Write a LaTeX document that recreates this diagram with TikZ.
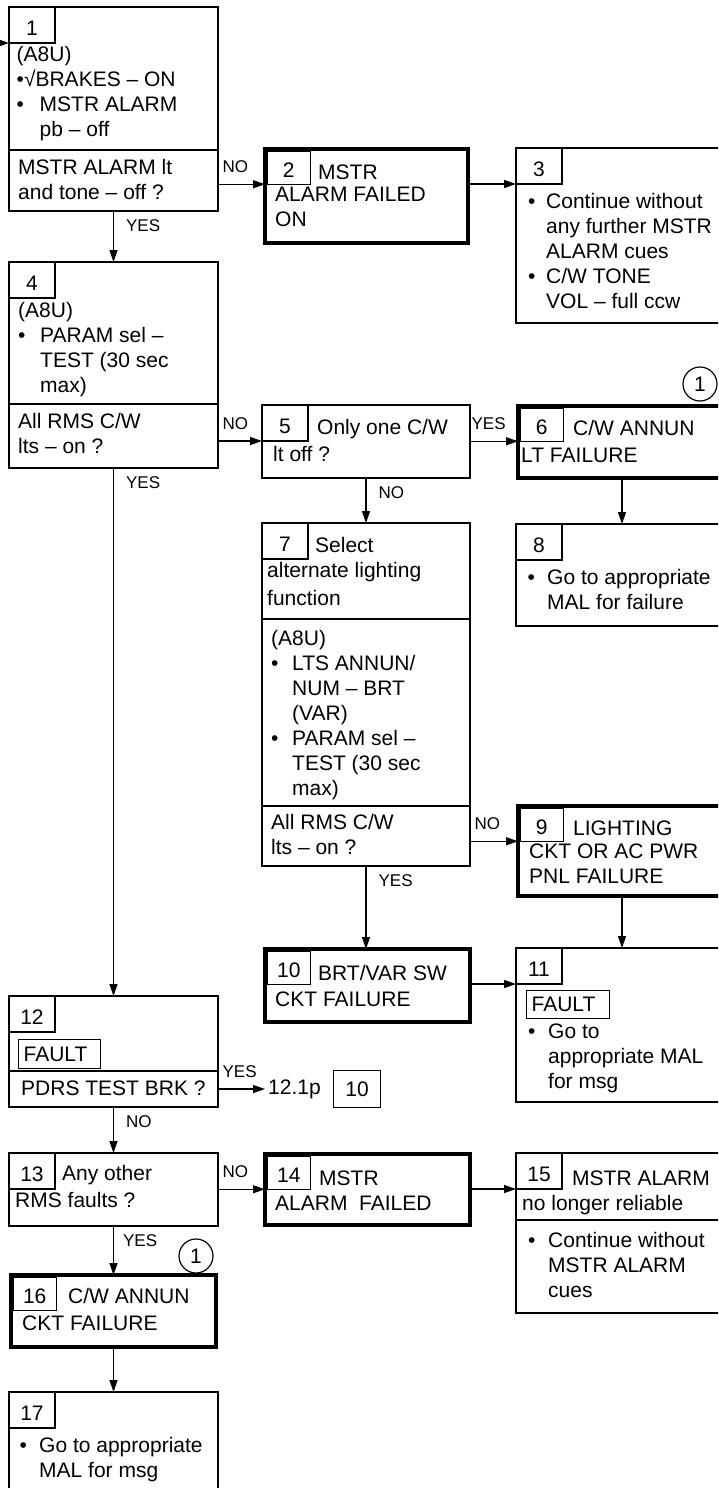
\documentclass[tikz,border=0pt]{standalone}
\usepackage{fontspec}
\setmainfont{Liberation Sans}
\usepackage{tikz}
\usetikzlibrary{positioning,arrows.meta}
\newcommand{\bodyfont}{\fontsize{21}{25}\selectfont}
\newcommand{\lblfont}{\fontsize{17}{20}\selectfont}
\newcommand{\bitem}[1][20pt]{\makebox[#1][l]{\textbullet}}
\newcommand{\bcont}[1][20pt]{\hspace*{#1}}

\begin{document}
\begin{tikzpicture}[x=1pt, y=-1pt, >={Triangle[length=12pt, width=8pt]},
  box/.style={draw, line width=1.8pt, outer sep=0pt, inner sep=0pt, anchor=north west},
  failbox/.style={box, line width=4.5pt},
  tab/.style={draw, line width=1.2pt, outer sep=0pt, inner sep=0pt, anchor=north west,
    minimum width=46pt, minimum height=36pt, text height=21pt, text depth=0pt, font=\bodyfont},
  failtab/.style={tab, minimum width=43pt, minimum height=33pt, text height=20pt},
  txt/.style={anchor=north west, inner sep=0pt, align=left, font=\bodyfont,
    execute at begin node=\bodyfont\strut},
  faultbox/.style={draw, line width=1.2pt, anchor=north west, inner xsep=5pt, inner ysep=0pt,
    minimum height=28pt, font=\bodyfont},
  refbox/.style={draw, line width=1.2pt, minimum width=47pt, minimum height=37pt, inner sep=0pt, font=\bodyfont},
  note/.style={draw, circle, line width=1.2pt, minimum size=34pt, inner sep=0pt, font=\bodyfont},
  sepline/.style={line width=1.8pt},
  arr/.style={line width=1.3pt, ->},
  lblr/.style={font=\lblfont, anchor=south west, inner sep=0pt, xshift=4pt, yshift=11pt},
  lbld/.style={font=\lblfont, anchor=north west, inner sep=0pt, xshift=12pt, yshift=-8pt}]
  \useasboundingbox (0,0) rectangle (718,1488);
  \clip (0,0) rectangle (718,1488);

  % Step 1
  \node[box, minimum width=209, minimum height=204] (b1) at (9,7) {};
  \node[tab] (t1) at (b1.north west) {1};
  \node[txt] (a1) at (16.5,46.5) {(A8U)\\\textbullet√BRAKES -- ON\\\bitem[23pt]MSTR ALARM\\\bcont[23pt]pb -- off};
  \node[txt] (q1) at (18,159.5) {MSTR ALARM lt\\and tone -- off ?};
  \draw[sepline] (b1.west |- 0,150) -- (b1.east |- 0,150);

  % Steps 2 and 3
  \node[failbox, minimum width=203, minimum height=94] (b2) at (265,149) {};
  \node[failtab] (t2) at ([shift={(2.25,2.25)}]b2.north west) {2};
  \node[txt] (h2) at (318,161.5) {MSTR};
  \node[txt] (a2) at (275,186.5) {ALARM FAILED\\ON};

  \node[box, minimum width=212, minimum height=175] (b3) at (516,148) {};
  \node[tab] (t3) at (b3.north west) {3};
  \node[txt] (a3) at (528,193.5) {\bitem[18pt]Continue without\\\bcont[18pt]any further MSTR\\\bcont[18pt]ALARM cues\\\bitem[18pt]C/W TONE\\\bcont[18pt]VOL -- full ccw};

  % Step 4
  \node[box, minimum width=209, minimum height=206] (b4) at (9,262) {};
  \node[tab] (t4) at (b4.north west) {4};
  \node[txt] (a4) at (18,302.5) {(A8U)\\\bitem[22pt]PARAM sel --\\\bcont[22pt]TEST (30 sec\\\bcont[22pt]max)};
  \node[txt] (q4) at (18,413.5) {All RMS C/W\\lts -- on ?};
  \draw[sepline] (b4.west |- 0,404) -- (b4.east |- 0,404);

  % Steps 5, 6 and 8
  \node[box, minimum width=208, minimum height=73] (b5) at (262,405) {};
  \node[tab] (t5) at (b5.north west) {5};
  \node[txt] (h5) at (317,416.5) {Only one C/W};
  \node[txt] (a5) at (273,443.5) {lt off ?};

  \node[failbox, minimum width=208, minimum height=72] (b6) at (518,406) {};
  \node[failtab] (t6) at ([shift={(2.25,2.25)}]b6.north west) {6};
  \node[txt] (h6) at (573,417.5) {C/W ANNUN};
  \node[txt] (a6) at (521,444.5) {LT FAILURE};
  \node[note] (n6) at (700,384) {1};

  \node[box, minimum width=212, minimum height=102] (b8) at (516,524) {};
  \node[tab] (t8) at (b8.north west) {8};
  \node[txt] (a8) at (527.5,569.5) {\bitem[19.5pt]Go to appropriate\\\bcont[19.5pt]MAL for failure};

  % Step 7
  \node[box, minimum width=208, minimum height=343] (b7) at (262,523) {};
  \node[tab] (t7) at (b7.north west) {7};
  \node[txt] (h7) at (315,534.5) {Select};
  \node[txt] (a7) at (267,562.5) {alternate lighting\\[3pt]function};
  \node[txt] (p7) at (271,630.5) {(A8U)\\\bitem[21pt]LTS ANNUN/\\\bcont[21pt]NUM -- BRT\\\bcont[21pt](VAR)\\\bitem[21pt]PARAM sel --\\\bcont[21pt]TEST (30 sec\\\bcont[21pt]max)};
  \node[txt] (q7) at (271,814.5) {All RMS C/W\\lts -- on ?};
  \draw[sepline] (b7.west |- 0,619) -- (b7.east |- 0,619);
  \draw[sepline] (b7.west |- 0,806) -- (b7.east |- 0,806);

  % Steps 9, 10 and 11
  \node[failbox, minimum width=208, minimum height=90] (b9) at (518,806) {};
  \node[failtab] (t9) at ([shift={(2.25,2.25)}]b9.north west) {9};
  \node[txt] (h9) at (573,817.5) {LIGHTING};
  \node[txt] (a9) at (529,843.5) {CKT OR AC PWR\\PNL FAILURE};

  \node[failbox, minimum width=205, minimum height=73] (b10) at (265,949) {};
  \node[failtab] (t10) at ([shift={(2.25,2.25)}]b10.north west) {10};
  \node[txt] (h10) at (318,962.5) {BRT/VAR SW};
  \node[txt] (a10) at (275,988.5) {CKT FAILURE};

  \node[box, minimum width=212, minimum height=154] (b11) at (516,948) {};
  \node[tab] (t11) at (b11.north west) {11};
  \node[faultbox] (f11) at (526,990) {\makebox[73pt][l]{FAULT}};
  \node[txt] (a11) at (528,1023.5) {\bitem Go to\\\bcont appropriate MAL\\\bcont for msg};

  % Step 12
  \node[box, minimum width=209, minimum height=111] (b12) at (9,996) {};
  \node[tab] (t12) at (b12.north west) {12};
  \node[faultbox, minimum height=29pt] (f12) at (18,1039) {\makebox[72pt][l]{FAULT}};
  \node[txt] (q12) at (21,1077.5) {PDRS TEST BRK ?};
  \draw[sepline] (b12.west |- 0,1071) -- (b12.east |- 0,1071);
  \node[font=\bodyfont, anchor=west, inner xsep=3pt] (ref) at (265,1089) {12.1p};
  \node[refbox, right=9pt of ref] (pg) {10};

  % Steps 13 to 17
  \node[box, minimum width=209, minimum height=73] (b13) at (9,1153) {};
  \node[tab] (t13) at (b13.north west) {13};
  \node[txt] (h13) at (62,1162.5) {Any other};
  \node[txt] (a13) at (15,1189.5) {RMS faults ?};

  \node[failbox, minimum width=205, minimum height=71] (b14) at (265,1154) {};
  \node[failtab] (t14) at ([shift={(2.25,2.25)}]b14.north west) {14};
  \node[txt] (h14) at (319,1167.5) {MSTR};
  \node[txt] (a14) at (275,1192.5) {ALARM\ \ FAILED};

  \node[box, minimum width=212, minimum height=160] (b15) at (516,1153) {};
  \node[tab] (t15) at (b15.north west) {15};
  \node[txt] (h15) at (572,1167.5) {MSTR ALARM};
  \node[txt] (a15) at (522,1192.5) {no longer reliable};
  \node[txt] (l15) at (528,1232.5) {\bitem Continue without\\\bcont MSTR ALARM\\\bcont cues};
  \draw[sepline] (b15.west |- 0,1220) -- (b15.east |- 0,1220);

  \node[failbox, minimum width=205, minimum height=72] (b16) at (11,1275) {};
  \node[failtab] (t16) at ([shift={(2.25,2.25)}]b16.north west) {16};
  \node[txt] (h16) at (68,1285.5) {C/W ANNUN};
  \node[txt] (a16) at (22,1312.5) {CKT FAILURE};
  \node[note] (n16) at (196,1256) {1};

  \node[box, minimum width=209, minimum height=130] (b17) at (9,1392) {};
  \node[tab] (t17) at (b17.north west) {17};
  \node[txt] (a17) at (19.5,1437.5) {\bitem[19.5pt]Go to appropriate\\\bcont[19.5pt]MAL for msg};

  % Connectors
  \coordinate (entry) at (-5,43);
  \draw[arr] (entry) -- (b1.west |- t1.south);
  \draw[arr] (b1.east |- t2.south) -- (b2.west |- t2.south) node[lblr, pos=0] {NO};
  \draw[arr] (b2.east |- t3.south) -- (b3.west |- t3.south);
  \draw[arr] (b1.south) -- (b1.south |- b4.north) node[lbld, pos=0] {YES};
  \draw[arr] (b4.east |- t5.south) -- (b5.west |- t5.south) node[lblr, pos=0] {NO};
  \draw[arr] (b5.east |- t6.south) -- (b6.west |- t6.south) node[lblr, pos=0, xshift=-3pt] {YES};
  \draw[arr] (b5.south) -- (b5.south |- b7.north) node[lbld, pos=0] {NO};
  \draw[arr] (b6.south) -- (b6.south |- b8.north);
  \draw[arr] (b7.east |- t9.south) -- (b9.west |- t9.south) node[lblr, pos=0] {NO};
  \draw[arr] (b7.south) -- (b7.south |- b10.north) node[lbld, pos=0] {YES};
  \draw[arr] (b9.south) -- (b9.south |- b11.north);
  \draw[arr] (b10.east |- t11.south) -- (b11.west |- t11.south);
  \draw[arr] (b4.south) -- (b4.south |- b12.north) node[lbld, pos=0] {YES};
  \draw[arr] (b12.east |- ref.west) -- (ref.west) node[lblr, pos=0] {YES};
  \draw[arr] (b12.south) -- (b12.south |- b13.north) node[lbld, pos=0] {NO};
  \draw[arr] (b13.east |- t14.south) -- (b14.west |- t14.south) node[lblr, pos=0] {NO};
  \draw[arr] (b14.east |- t15.south) -- (b15.west |- t15.south);
  \draw[arr] (b13.south) -- (b13.south |- b16.north) node[lbld, pos=0, xshift=-3pt] {YES};
  \draw[arr] (b16.south) -- (b16.south |- b17.north);
\end{tikzpicture}
\end{document}
